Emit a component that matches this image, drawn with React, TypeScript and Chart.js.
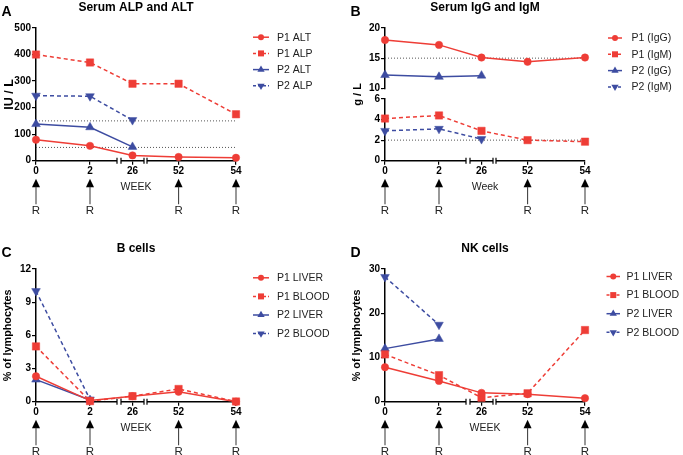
import React, { useEffect, useRef } from 'react';
import { Chart, registerables } from 'chart.js';

Chart.register(...registerables);

const FONT = '"Liberation Sans", Arial, Helvetica, sans-serif';
Chart.defaults.font.family = FONT;

const RED = '#EE3D36';
const BLUE = '#3D4CA1';

// ---- shared axis data ----
const WEEKS = [0, 2, 26, 52, 54];
const R_WEEKS = [0, 2, 52, 54];

// ---- Panel A: Serum ALP and ALT (IU / L) ----
const A_P1_ALT = [79, 56, 20, 14, 11];
const A_P1_ALP = [400, 370, 290, 290, 175];
const A_P2_ALT = [138, 126, 52];
const A_P2_ALP = [245, 243, 153];
const A_REF = [150, 50];
const A_Y_TICKS = [0, 100, 200, 300, 400, 500];

// ---- Panel B: Serum IgG and IgM (g / L) ----
const B_P1_IGG = [18, 17.2, 15.1, 14.4, 15.1];
const B_P1_IGM = [4.1, 4.4, 2.9, 2.0, 1.85];
const B_P2_IGG = [12.2, 11.9, 12.1];
const B_P2_IGM = [2.9, 3.1, 2.1];
const B_REF = [15, 2];
const B_Y_TICKS = [0, 2, 4, 6, 10, 15, 20];

// ---- Panel C: B cells (% of lymphocytes) ----
const C_P1_LIVER = [2.3, 0.1, 0.5, 0.9, 0];
const C_P1_BLOOD = [5.0, 0.05, 0.5, 1.15, 0.02];
const C_P2_LIVER = [2.0, 0.15];
const C_P2_BLOOD = [10.0, 0.2];
const C_Y_TICKS = [0, 3, 6, 9, 12];

// ---- Panel D: NK cells (% of lymphocytes) ----
const D_P1_LIVER = [7.8, 4.7, 2.0, 1.7, 0.8];
const D_P1_BLOOD = [10.7, 6.0, 0.9, 1.9, 16.2];
const D_P2_LIVER = [12.0, 14.2];
const D_P2_BLOOD = [28.2, 17.4];
const D_Y_TICKS = [0, 10, 20, 30];

// ---- broken-axis configuration (axis units) ----
type Seg = { from: number; to: number; start: number; end: number };
const X_SEGMENTS: Seg[] = [
  { from: 0, to: 3, start: 0, end: 81 },
  { from: 25, to: 27, start: 85, end: 108 },
  { from: 50.9, to: 54, start: 111, end: 200 },
];
const X_MAX = 200;
const B_Y_SEGMENTS: Seg[] = [
  { from: 0, to: 6, start: 0, end: 61.7 },
  { from: 10, to: 20, start: 72.4, end: 132.7 },
];

function segMap(v: number, segs?: Seg[]) {
  if (!segs) return v;
  let s = segs[0];
  for (const g of segs) if (v >= g.from) s = g;
  return s.start + ((v - s.from) / (s.to - s.from)) * (s.end - s.start);
}

type Marker = 'circle' | 'rect' | 'triangle' | 'inv';
type Series = { label: string; values: number[]; color: string; dashed: boolean; marker: Marker };
type PanelCfg = {
  letter: string;
  title: string;
  yTitle: string;
  yTitleSize: number;
  xTitle: string;
  series: Series[];
  refs: number[];
  yTicks: number[];
  yMax: number;
  ySegs?: Seg[];
  legend: { lineX0: number; lineX1: number; textX: number; y0: number; step: number };
};

const mk = (label: string, values: number[], color: string, dashed: boolean, marker: Marker): Series => ({
  label, values, color, dashed, marker,
});

const PANELS: PanelCfg[] = [
  {
    letter: 'A', title: 'Serum ALP and ALT', yTitle: 'IU / L', yTitleSize: 12.5, xTitle: 'WEEK',
    series: [
      mk('P1 ALT', A_P1_ALT, RED, false, 'circle'),
      mk('P1 ALP', A_P1_ALP, RED, true, 'rect'),
      mk('P2 ALT', A_P2_ALT, BLUE, false, 'triangle'),
      mk('P2 ALP', A_P2_ALP, BLUE, true, 'inv'),
    ],
    refs: A_REF, yTicks: A_Y_TICKS, yMax: 500,
    legend: { lineX0: 253, lineX1: 269, textX: 277, y0: 37.2, step: 16.2 },
  },
  {
    letter: 'B', title: 'Serum IgG and IgM', yTitle: 'g / L', yTitleSize: 11, xTitle: 'Week',
    series: [
      mk('P1 (IgG)', B_P1_IGG, RED, false, 'circle'),
      mk('P1 (IgM)', B_P1_IGM, RED, true, 'rect'),
      mk('P2 (IgG)', B_P2_IGG, BLUE, false, 'triangle'),
      mk('P2 (IgM)', B_P2_IGM, BLUE, true, 'inv'),
    ],
    refs: B_REF, yTicks: B_Y_TICKS, yMax: 132.7, ySegs: B_Y_SEGMENTS,
    legend: { lineX0: 259, lineX1: 273, textX: 282.5, y0: 38, step: 16.3 },
  },
  {
    letter: 'C', title: 'B cells', yTitle: '% of lymphocytes', yTitleSize: 10.8, xTitle: 'WEEK',
    series: [
      mk('P1 LIVER', C_P1_LIVER, RED, false, 'circle'),
      mk('P1 BLOOD', C_P1_BLOOD, RED, true, 'rect'),
      mk('P2 LIVER', C_P2_LIVER, BLUE, false, 'triangle'),
      mk('P2 BLOOD', C_P2_BLOOD, BLUE, true, 'inv'),
    ],
    refs: [], yTicks: C_Y_TICKS, yMax: 12,
    legend: { lineX0: 253, lineX1: 269, textX: 277, y0: 36.8, step: 18.6 },
  },
  {
    letter: 'D', title: 'NK cells', yTitle: '% of lymphocytes', yTitleSize: 10.8, xTitle: 'WEEK',
    series: [
      mk('P1 LIVER', D_P1_LIVER, RED, false, 'circle'),
      mk('P1 BLOOD', D_P1_BLOOD, RED, true, 'rect'),
      mk('P2 LIVER', D_P2_LIVER, BLUE, false, 'triangle'),
      mk('P2 BLOOD', D_P2_BLOOD, BLUE, true, 'inv'),
    ],
    refs: [], yTicks: D_Y_TICKS, yMax: 30,
    legend: { lineX0: 257.5, lineX1: 271, textX: 277.5, y0: 35.5, step: 18.6 },
  },
];

const PANEL_POS = [
  { left: 0, top: 0 },
  { left: 349, top: 0 },
  { left: 0, top: 241 },
  { left: 349, top: 241 },
];
const CW = 349;
const CH = 241;
const PLOT_RIGHT = 236;
const PLOT_TOP = 28;
const PLOT_BOTTOM = 160.7;
const Y_AXIS_W = 36;
const X_AXIS_H = 34;

function markerStyle(m: Marker) {
  if (m === 'circle') return { pointStyle: 'circle', pointRadius: 3.7, pointRotation: 0 };
  if (m === 'rect') return { pointStyle: 'rect', pointRadius: 5.2, pointRotation: 0 };
  if (m === 'triangle') return { pointStyle: 'triangle', pointRadius: 5, pointRotation: 0 };
  return { pointStyle: 'triangle', pointRadius: 5, pointRotation: 180 };
}

function drawMarker(ctx: CanvasRenderingContext2D, m: Marker, x: number, y: number, color: string) {
  ctx.fillStyle = color;
  ctx.beginPath();
  if (m === 'circle') {
    ctx.arc(x, y, 3, 0, Math.PI * 2);
  } else if (m === 'rect') {
    ctx.rect(x - 3, y - 3, 6, 6);
  } else {
    const r = 4.2;
    const dir = m === 'triangle' ? 1 : -1;
    for (let k = 0; k < 3; k++) {
      const a = (k * 2 * Math.PI) / 3;
      const px = x + Math.sin(a) * r;
      const py = y - dir * Math.cos(a) * r;
      if (k === 0) ctx.moveTo(px, py);
      else ctx.lineTo(px, py);
    }
    ctx.closePath();
  }
  ctx.fill();
}

function Panel({ cfg, left, top }: { cfg: PanelCfg; left: number; top: number }) {
  const ref = useRef<HTMLCanvasElement | null>(null);

  useEffect(() => {
    if (!ref.current) return;
    const xs = WEEKS.map((w) => segMap(w, X_SEGMENTS));
    const ym = (v: number) => segMap(v, cfg.ySegs);

    const datasets: any[] = cfg.series.map((s) => ({
      label: s.label,
      data: s.values.map((v, i) => ({ x: xs[i], y: ym(v) })),
      borderColor: s.color,
      backgroundColor: s.color,
      pointBackgroundColor: s.color,
      pointBorderColor: s.color,
      pointBorderWidth: 0.5,
      borderWidth: 1.5,
      borderDash: s.dashed ? [4, 3] : [],
      tension: 0,
      fill: false,
      clip: false,
      order: 1,
      ...markerStyle(s.marker),
    }));
    cfg.refs.forEach((r) => {
      datasets.push({
        label: '_ref',
        data: [
          { x: xs[0], y: ym(r) },
          { x: xs[xs.length - 1], y: ym(r) },
        ],
        borderColor: '#555',
        borderWidth: 1,
        borderDash: [1, 2],
        pointRadius: 0,
        clip: false,
        order: 10,
      });
    });

    const decor = {
      id: 'decor',
      afterDraw(chart: any) {
        const ctx: CanvasRenderingContext2D = chart.ctx;
        const xS = chart.scales.x;
        const yS = chart.scales.y;
        const ca = chart.chartArea;
        ctx.save();

        // x-axis breaks
        for (let i = 0; i < X_SEGMENTS.length - 1; i++) {
          const xa = xS.getPixelForValue(X_SEGMENTS[i].end);
          const xb = xS.getPixelForValue(X_SEGMENTS[i + 1].start);
          const y = ca.bottom;
          ctx.fillStyle = '#fff';
          ctx.fillRect(xa, y - 2, xb - xa, 4);
          ctx.strokeStyle = '#000';
          ctx.lineWidth = 1.2;
          ctx.setLineDash([]);
          ctx.beginPath();
          ctx.moveTo(xa, y - 3);
          ctx.lineTo(xa, y + 3);
          ctx.moveTo(xb, y - 3);
          ctx.lineTo(xb, y + 3);
          ctx.stroke();
        }
        // y-axis breaks
        if (cfg.ySegs) {
          for (let i = 0; i < cfg.ySegs.length - 1; i++) {
            const ya = yS.getPixelForValue(cfg.ySegs[i].end);
            const yb = yS.getPixelForValue(cfg.ySegs[i + 1].start);
            ctx.fillStyle = '#fff';
            ctx.fillRect(ca.left - 2, yb + 1, 4, ya - yb - 2);
          }
        }

        // treatment arrows
        R_WEEKS.forEach((w) => {
          const x = xS.getPixelForValue(segMap(w, X_SEGMENTS));
          const y0 = ca.bottom;
          ctx.fillStyle = '#000';
          ctx.beginPath();
          ctx.moveTo(x, y0 + 18);
          ctx.lineTo(x + 4, y0 + 26.5);
          ctx.lineTo(x - 4, y0 + 26.5);
          ctx.closePath();
          ctx.fill();
          ctx.strokeStyle = '#444';
          ctx.lineWidth = 1.1;
          ctx.beginPath();
          ctx.moveTo(x, y0 + 26);
          ctx.lineTo(x, y0 + 43.5);
          ctx.stroke();
          ctx.fillStyle = '#222';
          ctx.font = `11.5px ${FONT}`;
          ctx.textAlign = 'center';
          ctx.textBaseline = 'middle';
          ctx.fillText('R', x, y0 + 50.5);
        });

        // panel letter and title
        ctx.fillStyle = '#000';
        ctx.textBaseline = 'middle';
        ctx.textAlign = 'left';
        ctx.font = `bold 14px ${FONT}`;
        ctx.fillText(cfg.letter, 1.5, 12);
        ctx.textAlign = 'center';
        ctx.font = `bold 12px ${FONT}`;
        ctx.fillText(cfg.title, (ca.left + ca.right) / 2, 7.5);

        // legend
        const L = cfg.legend;
        cfg.series.forEach((s, i) => {
          const y = L.y0 + i * L.step;
          ctx.strokeStyle = s.color;
          ctx.lineWidth = 1.5;
          ctx.setLineDash(s.dashed ? [3, 2] : []);
          ctx.beginPath();
          ctx.moveTo(L.lineX0, y);
          ctx.lineTo(L.lineX1, y);
          ctx.stroke();
          ctx.setLineDash([]);
          drawMarker(ctx, s.marker, (L.lineX0 + L.lineX1) / 2, y, s.color);
          ctx.fillStyle = '#222';
          ctx.font = `10.5px ${FONT}`;
          ctx.textAlign = 'left';
          ctx.textBaseline = 'middle';
          ctx.fillText(s.label, L.textX, y + 0.5);
        });
        ctx.restore();
      },
    };

    const gridOpts = { drawOnChartArea: false, drawTicks: true, tickLength: 4, color: '#000', lineWidth: 1.2 };
    const borderOpts = { display: true, color: '#000', width: 1.5 };

    const chart = new Chart(ref.current, {
      type: 'line',
      data: { datasets },
      options: {
        animation: false,
        responsive: false,
        maintainAspectRatio: false,
        devicePixelRatio: 1,
        layout: {
          padding: {
            left: 0,
            top: PLOT_TOP,
            right: CW - PLOT_RIGHT,
            bottom: CH - PLOT_BOTTOM - X_AXIS_H,
          },
        },
        plugins: { legend: { display: false }, tooltip: { enabled: false }, title: { display: false } },
        scales: {
          x: {
            type: 'linear',
            min: 0,
            max: X_MAX,
            afterBuildTicks: (sc: any) => {
              sc.ticks = xs.map((v) => ({ value: v }));
            },
            afterFit: (sc: any) => {
              sc.height = X_AXIS_H;
            },
            ticks: {
              autoSkip: false,
              maxRotation: 0,
              padding: 1,
              color: '#000',
              font: { size: 10, weight: 'bold' },
              callback: (_v: any, i: number) => String(WEEKS[i]),
            },
            grid: gridOpts,
            border: borderOpts,
            title: {
              display: true,
              text: cfg.xTitle,
              color: '#222',
              font: { size: 10.5 },
              padding: { top: 0, bottom: 1.7 },
            },
          },
          y: {
            type: 'linear',
            min: 0,
            max: cfg.yMax,
            afterBuildTicks: (sc: any) => {
              sc.ticks = cfg.yTicks.map((v) => ({ value: ym(v) }));
            },
            afterFit: (sc: any) => {
              sc.width = Y_AXIS_W;
            },
            ticks: {
              autoSkip: false,
              padding: 1,
              color: '#000',
              font: { size: 10, weight: 'bold' },
              callback: (_v: any, i: number) => String(cfg.yTicks[i]),
            },
            grid: gridOpts,
            border: borderOpts,
            title: {
              display: true,
              text: cfg.yTitle,
              color: '#000',
              font: { size: cfg.yTitleSize, weight: 'bold' },
              padding: { top: 2, bottom: 0 },
            },
          },
        },
      } as any,
      plugins: [decor],
    });
    return () => chart.destroy();
  }, [cfg]);

  return (
    <canvas
      ref={ref}
      width={CW}
      height={CH}
      style={{ position: 'absolute', left, top, width: CW, height: CH }}
    />
  );
}

export default function App() {
  return (
    <div
      style={{
        position: 'absolute',
        left: 0,
        top: 0,
        width: 683,
        height: 455,
        overflow: 'hidden',
        background: '#fff',
      }}
    >
      {PANELS.map((p, i) => (
        <Panel key={p.letter} cfg={p} left={PANEL_POS[i].left} top={PANEL_POS[i].top} />
      ))}
    </div>
  );
}
